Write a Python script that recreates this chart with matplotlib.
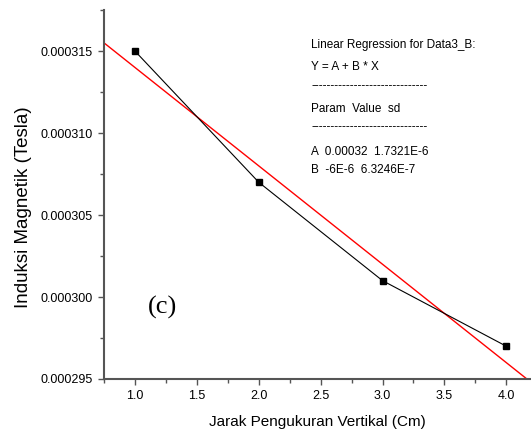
import matplotlib.pyplot as plt
import numpy as np
from matplotlib.ticker import MultipleLocator, FormatStrFormatter

# data
jarak = [1.0, 2.0, 3.0, 4.0]
induksi = [0.000315, 0.000307, 0.000301, 0.000297]
param_a = 0.00032
param_b = -6e-6

info_lines = [
    "Linear Regression for Data3_B:",
    "Y = A + B * X",
    "-" * 30,
    "Param  Value  sd",
    "-" * 30,
    "A  0.00032  1.7321E-6",
    "B  -6E-6  6.3246E-7",
]

plt.rcParams['font.family'] = ['Liberation Sans', 'DejaVu Sans']

fig = plt.figure(figsize=(5.31, 4.43), dpi=100)
ax = fig.add_axes([0.196, 0.1445, 0.804, 0.8326])

xs = np.array([0.75, 4.2])
ax.plot(xs, param_a + param_b * xs, color='red', lw=1)
ax.plot(jarak, induksi, color='black', lw=0.8, marker='s', ms=4.5)

ax.set_xlim(0.75, 4.2)
ax.set_ylim(0.000295, 0.0003175)
ax.xaxis.set_major_locator(MultipleLocator(0.5))
ax.xaxis.set_minor_locator(MultipleLocator(0.25))
ax.yaxis.set_major_locator(MultipleLocator(0.000005))
ax.yaxis.set_minor_locator(MultipleLocator(0.0000025))
ax.xaxis.set_major_formatter(FormatStrFormatter('%.1f'))
ax.yaxis.set_major_formatter(FormatStrFormatter('%.6f'))
ax.yaxis.get_offset_text().set_visible(False)

ax.spines['top'].set_visible(False)
ax.spines['right'].set_visible(False)
for s in ['left', 'bottom']:
    ax.spines[s].set_color('#555555')
    ax.spines[s].set_linewidth(1.5)
ax.tick_params(which='both', direction='out', colors='#555555', labelcolor='black', labelsize=9)
ax.tick_params(which='major', length=4, width=1, pad=4)
ax.tick_params(which='minor', length=3, width=1)

ax.set_xlabel('Jarak Pengukuran Vertikal (Cm)', fontsize=11, labelpad=9)
ax.set_ylabel('Induksi Magnetik (Tesla)', fontsize=13.5)
ax.yaxis.set_label_coords(-0.169, 0.465)

ys = [45, 67, 86, 109, 127, 152, 170]
for t, y in zip(info_lines, ys):
    fig.text(311 / 531, 1 - y / 443, t, fontsize=8.5, va='center', ha='left')

fig.text(148 / 531, 1 - 307 / 443, '(c)', fontsize=19, va='center', ha='left',
         family=['Liberation Serif', 'DejaVu Serif'])

fig.savefig('out.png', dpi=100)
